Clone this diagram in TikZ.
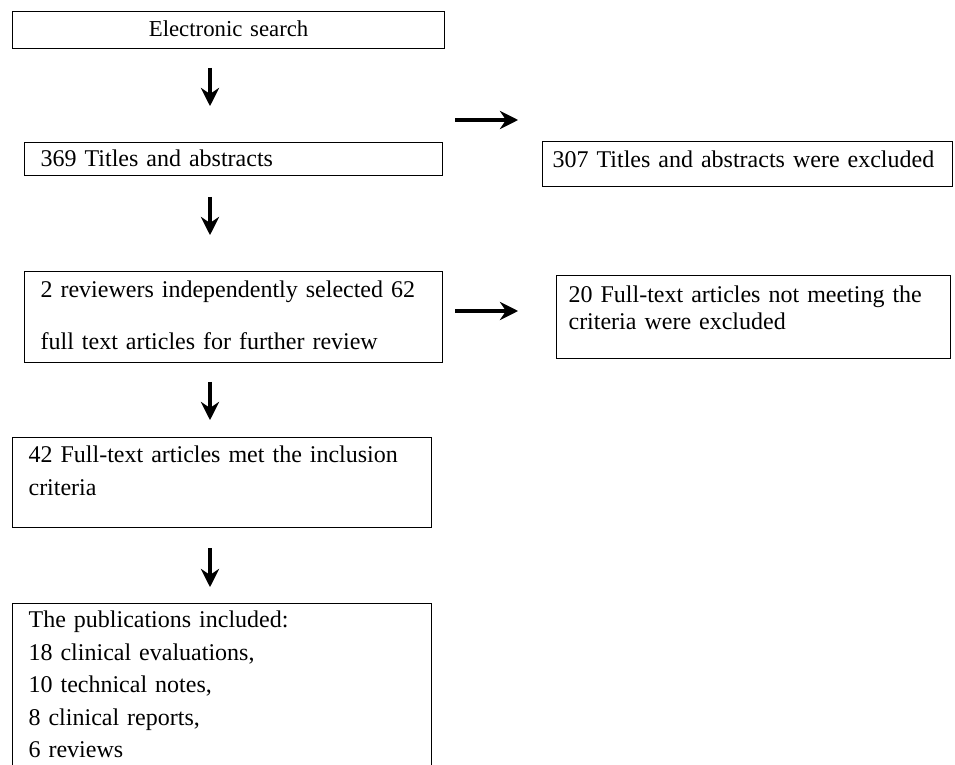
\documentclass[tikz,border=0pt]{standalone}
\usepackage{fontspec}
\setmainfont{Liberation Serif}
\usetikzlibrary{arrows.meta}
\tikzset{
  stage/.style={draw, line width=0.6pt, anchor=north west, inner ysep=0pt,
    align=left, font=\fontsize{12}{16.25}\selectfont},
  flow/.style={-{Stealth[length=9pt,width=9pt,inset=3pt]}, line width=2pt},
  flowshade/.style={flow, draw=black!35, fill=black!35, shift={(1.5,3)}}
}
\begin{document}
\begin{tikzpicture}[x=0.5pt, y=-0.5pt]
    \useasboundingbox (0, 0) rectangle (955, 765);
    % boxes
    \node[stage, align=center, text width=208pt, inner xsep=4pt,
        font=\fontsize{11.4}{16.25}\selectfont,
        text height=12.5pt, text depth=6pt] (search) at (12, 11) {Electronic search};
    \node[stage, text width=193pt, inner xsep=8pt,
        text height=12pt, text depth=4.5pt] (titles) at (24, 142) {369 Titles and abstracts};
    \node[stage, text width=195pt, inner xsep=5pt,
        text height=13pt, text depth=9.5pt] (titlesout) at (542, 141) {307 Titles and abstracts were excluded};
    \node[stage, text width=193pt, inner xsep=8pt,
        text height=13pt, text depth=32.5pt] (fulltext) at (24, 271)
        {2 reviewers independently selected 62\\[9.75pt]full text articles for further review};
    \node[stage, text width=185pt, inner xsep=6pt,
        text height=13.5pt, text depth=28pt] (fulltextout) at (556, 275)
        {20 Full-text articles not meeting the\\[-2.75pt]criteria were excluded};
    \node[stage, text width=193.5pt, inner xsep=8pt,
        text height=12.5pt, text depth=32.5pt] (included) at (12, 437)
        {42 Full-text articles met the inclusion\\criteria};
    \node[stage, text width=193.5pt, inner xsep=8pt,
        text height=12pt, text depth=72pt] (publications) at (12, 603)
        {The publications included:\\18 clinical evaluations,\\10 technical notes,\\8 clinical reports,\\6 reviews};
    % arrow ends
    \coordinate (a1) at (210, 68);  \coordinate (b1) at (210, 106);
    \coordinate (a2) at (210, 197); \coordinate (b2) at (210, 235);
    \coordinate (a3) at (210, 382); \coordinate (b3) at (210, 420);
    \coordinate (a4) at (210, 548); \coordinate (b4) at (210, 587);
    \coordinate (h1) at (455, 120); \coordinate (k1) at (518, 120);
    \coordinate (h2) at (455, 311); \coordinate (k2) at (518, 311);
    % arrows
    \foreach \s/\e in {a1/b1, a2/b2, a3/b3, a4/b4, h1/k1, h2/k2} {
        \draw[flowshade] (\s) -- (\e);
        \draw[flow] (\s) -- (\e);
    }
\end{tikzpicture}
\end{document}
